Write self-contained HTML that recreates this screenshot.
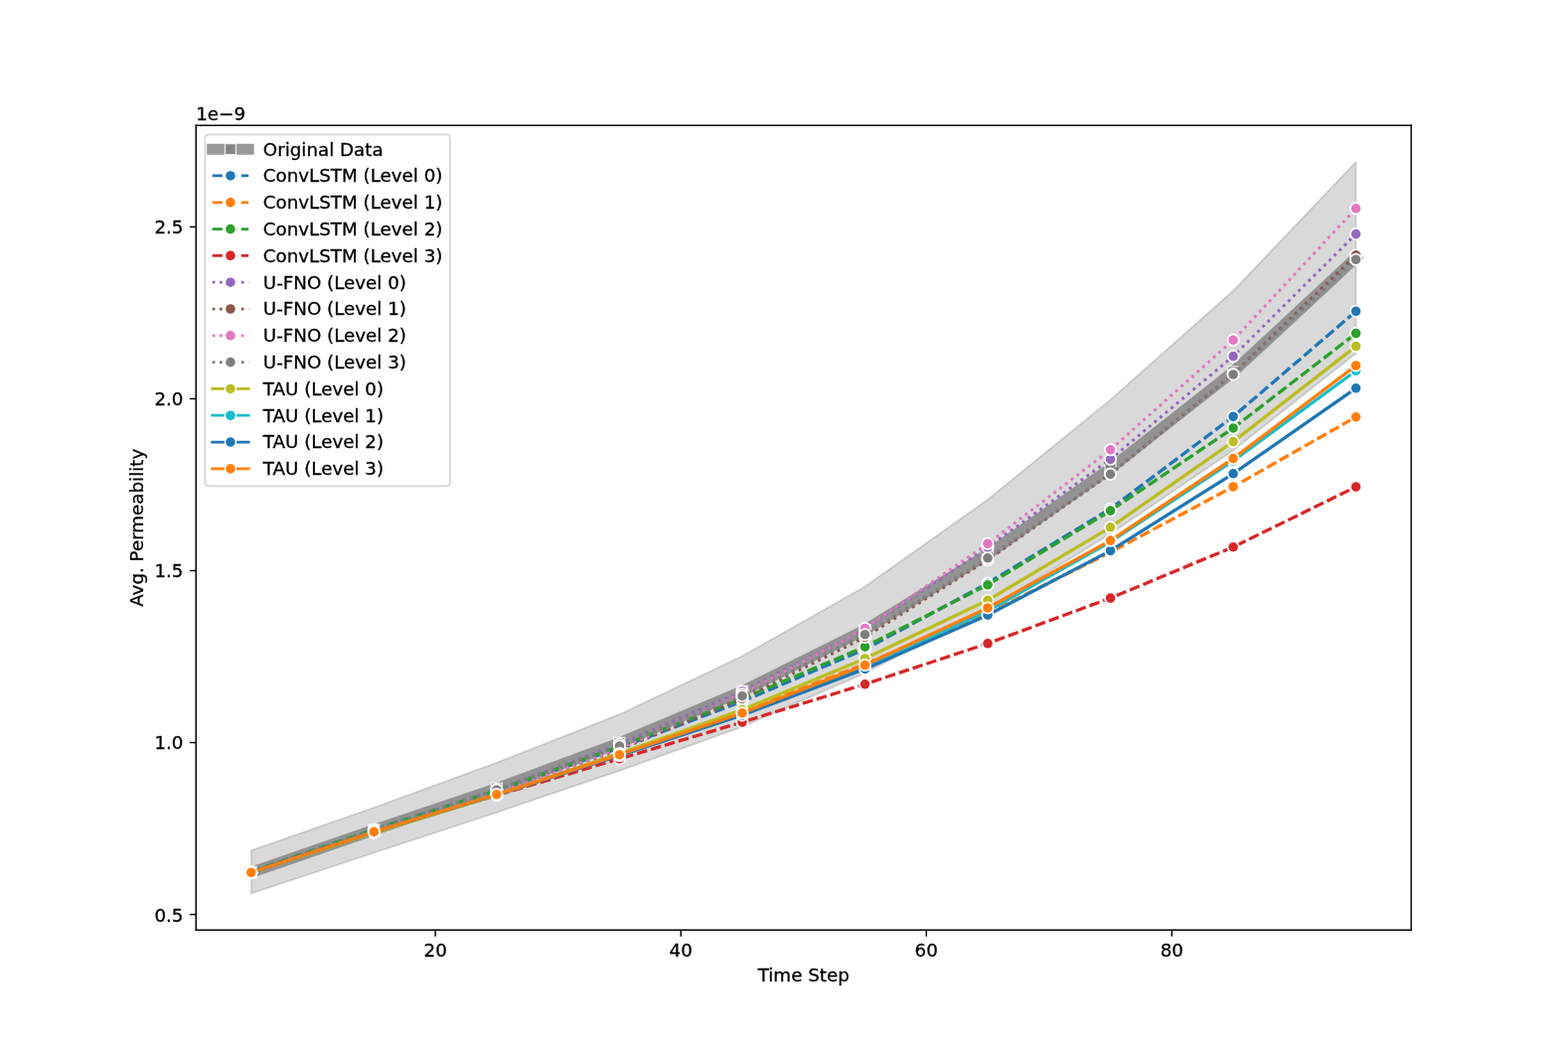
<!DOCTYPE html>
<html lang="en">
<head>
<meta charset="utf-8">
<title>Avg. Permeability vs Time Step</title>
<style>
html,body{margin:0;padding:0;background:#ffffff;}
body{width:1578px;height:1052px;overflow:hidden;font-family:"DejaVu Sans","Liberation Sans",sans-serif;}
svg{display:block;}
svg text{font-family:"DejaVu Sans","Liberation Sans",sans-serif;stroke:#000;stroke-width:0.16px;stroke-linejoin:round;}
</style>
</head>
<body>
<svg width="1578" height="1052" viewBox="0 0 864 576">
 <defs>
  <style type="text/css">*{stroke-linejoin: round; stroke-linecap: butt}</style>
 </defs>
 <g id="figure_1">
  <g id="patch_1">
   <path d="M 0 576 L 864 576 L 864 0 L 0 0 z
" style="fill: #ffffff"/>
  </g>
  <g id="axes_1">
   <g id="patch_2">
    <path d="M 108 512.64 L 777.6 512.64 L 777.6 69.12 L 108 69.12 z
" style="fill: #ffffff"/>
   </g>
   <g id="FillBetweenPolyCollection_1">
    <defs>
     <path id="m582c980ed0" d="M 138.436364 -107.206084 L 138.436364 -83.52 L 206.072727 -105.946768 L 273.709091 -128.231179 L 341.345455 -151.145247 L 408.981818 -175.428137 L 476.618182 -204.994677 L 544.254545 -240.365019 L 611.890909 -281.703422 L 679.527273 -327.75057 L 747.163636 -381.244106 L 747.163636 -486.72 L 747.163636 -486.72 L 679.527273 -415.68365 L 611.890909 -355.674525 L 544.254545 -300.593156 L 476.618182 -252.684411 L 408.981818 -214.357414 L 341.345455 -182.21749 L 273.709091 -155.607605 L 206.072727 -130.859316 L 138.436364 -107.206084 z
" style="stroke: #808080; stroke-opacity: 0.3"/>
    </defs>
    <g clip-path="url(#pb26753ab78)">
     <use href="#m582c980ed0" x="0" y="576" style="fill: #808080; fill-opacity: 0.3; stroke: #808080; stroke-opacity: 0.3"/>
    </g>
   </g>
   <g id="matplotlib.axis_1">
    <g id="xtick_1">
     <g id="line2d_1">
      <defs>
       <path id="m1504cfccaf" d="M 0 0 L 0 3.5" style="stroke: #000000; stroke-width: 0.8"/>
      </defs>
      <g>
       <use href="#m1504cfccaf" x="239.890909" y="512.64" style="stroke: #000000; stroke-width: 0.8"/>
      </g>
     </g>
     <g id="text_1">
      <text style="font-size: 10px; font-family: 'DejaVu Sans', 'Liberation Sans', sans-serif; text-anchor: middle" x="239.890909" y="527.238438">20</text>
     </g>
    </g>
    <g id="xtick_2">
     <g id="line2d_2">
      <g>
       <use href="#m1504cfccaf" x="375.163636" y="512.64" style="stroke: #000000; stroke-width: 0.8"/>
      </g>
     </g>
     <g id="text_2">
      <text style="font-size: 10px; font-family: 'DejaVu Sans', 'Liberation Sans', sans-serif; text-anchor: middle" x="375.163636" y="527.238438">40</text>
     </g>
    </g>
    <g id="xtick_3">
     <g id="line2d_3">
      <g>
       <use href="#m1504cfccaf" x="510.436364" y="512.64" style="stroke: #000000; stroke-width: 0.8"/>
      </g>
     </g>
     <g id="text_3">
      <text style="font-size: 10px; font-family: 'DejaVu Sans', 'Liberation Sans', sans-serif; text-anchor: middle" x="510.436364" y="527.238438">60</text>
     </g>
    </g>
    <g id="xtick_4">
     <g id="line2d_4">
      <g>
       <use href="#m1504cfccaf" x="645.709091" y="512.64" style="stroke: #000000; stroke-width: 0.8"/>
      </g>
     </g>
     <g id="text_4">
      <text style="font-size: 10px; font-family: 'DejaVu Sans', 'Liberation Sans', sans-serif; text-anchor: middle" x="645.709091" y="527.238438">80</text>
     </g>
    </g>
    <g id="text_5">
     <text style="font-size: 10px; font-family: 'DejaVu Sans', 'Liberation Sans', sans-serif; text-anchor: middle" x="442.8" y="540.916563">Time Step</text>
    </g>
   </g>
   <g id="matplotlib.axis_2">
    <g id="ytick_1">
     <g id="line2d_5">
      <defs>
       <path id="m5d545ce8f8" d="M 0 0 L -3.5 0" style="stroke: #000000; stroke-width: 0.8"/>
      </defs>
      <g>
       <use href="#m5d545ce8f8" x="108" y="504.054753" style="stroke: #000000; stroke-width: 0.8"/>
      </g>
     </g>
     <g id="text_6">
      <text style="font-size: 10px; font-family: 'DejaVu Sans', 'Liberation Sans', sans-serif; text-anchor: end" x="101" y="507.853972">0.5</text>
     </g>
    </g>
    <g id="ytick_2">
     <g id="line2d_6">
      <g>
       <use href="#m5d545ce8f8" x="108" y="409.304943" style="stroke: #000000; stroke-width: 0.8"/>
      </g>
     </g>
     <g id="text_7">
      <text style="font-size: 10px; font-family: 'DejaVu Sans', 'Liberation Sans', sans-serif; text-anchor: end" x="101" y="413.104162">1.0</text>
     </g>
    </g>
    <g id="ytick_3">
     <g id="line2d_7">
      <g>
       <use href="#m5d545ce8f8" x="108" y="314.555133" style="stroke: #000000; stroke-width: 0.8"/>
      </g>
     </g>
     <g id="text_8">
      <text style="font-size: 10px; font-family: 'DejaVu Sans', 'Liberation Sans', sans-serif; text-anchor: end" x="101" y="318.354352">1.5</text>
     </g>
    </g>
    <g id="ytick_4">
     <g id="line2d_8">
      <g>
       <use href="#m5d545ce8f8" x="108" y="219.805323" style="stroke: #000000; stroke-width: 0.8"/>
      </g>
     </g>
     <g id="text_9">
      <text style="font-size: 10px; font-family: 'DejaVu Sans', 'Liberation Sans', sans-serif; text-anchor: end" x="101" y="223.604542">2.0</text>
     </g>
    </g>
    <g id="ytick_5">
     <g id="line2d_9">
      <g>
       <use href="#m5d545ce8f8" x="108" y="125.055513" style="stroke: #000000; stroke-width: 0.8"/>
      </g>
     </g>
     <g id="text_10">
      <text style="font-size: 10px; font-family: 'DejaVu Sans', 'Liberation Sans', sans-serif; text-anchor: end" x="101" y="128.854732">2.5</text>
     </g>
    </g>
    <g id="text_11">
     <text style="font-size: 10px; font-family: 'DejaVu Sans', 'Liberation Sans', sans-serif; text-anchor: middle" x="79.017187" y="290.88" transform="rotate(-90 79.017187 290.88)">Avg. Permeability</text>
    </g>
    <g id="text_12">
     <text style="font-size: 10px; font-family: 'DejaVu Sans', 'Liberation Sans', sans-serif; text-anchor: start" x="108" y="66.12">1e−9</text>
    </g>
   </g>
   <g id="line2d_10">
    <path d="M 138.436364 480.894297 L 206.072727 457.460076 L 273.709091 434.518631 L 341.345455 409.441825 L 408.981818 380.970342 L 476.618182 347.242586 L 544.254545 305.520913 L 611.890909 258.159696 L 679.527273 204.939924 L 747.163636 142.028897" clip-path="url(#pb26753ab78)" style="fill: none; stroke: #808080; stroke-opacity: 0.8; stroke-width: 6; stroke-linecap: square"/>
    <defs>
     <path id="m9f821a03c7" d="M -3 3 L 3 3 L 3 -3 L -3 -3 z
" style="stroke: #ffffff; stroke-opacity: 0.8; stroke-width: 0.75; stroke-linejoin: miter"/>
    </defs>
    <g clip-path="url(#pb26753ab78)">
     <use href="#m9f821a03c7" x="138.436364" y="480.894297" style="fill: #808080; fill-opacity: 0.8; stroke: #ffffff; stroke-opacity: 0.8; stroke-width: 0.75; stroke-linejoin: miter"/>
     <use href="#m9f821a03c7" x="206.072727" y="457.460076" style="fill: #808080; fill-opacity: 0.8; stroke: #ffffff; stroke-opacity: 0.8; stroke-width: 0.75; stroke-linejoin: miter"/>
     <use href="#m9f821a03c7" x="273.709091" y="434.518631" style="fill: #808080; fill-opacity: 0.8; stroke: #ffffff; stroke-opacity: 0.8; stroke-width: 0.75; stroke-linejoin: miter"/>
     <use href="#m9f821a03c7" x="341.345455" y="409.441825" style="fill: #808080; fill-opacity: 0.8; stroke: #ffffff; stroke-opacity: 0.8; stroke-width: 0.75; stroke-linejoin: miter"/>
     <use href="#m9f821a03c7" x="408.981818" y="380.970342" style="fill: #808080; fill-opacity: 0.8; stroke: #ffffff; stroke-opacity: 0.8; stroke-width: 0.75; stroke-linejoin: miter"/>
     <use href="#m9f821a03c7" x="476.618182" y="347.242586" style="fill: #808080; fill-opacity: 0.8; stroke: #ffffff; stroke-opacity: 0.8; stroke-width: 0.75; stroke-linejoin: miter"/>
     <use href="#m9f821a03c7" x="544.254545" y="305.520913" style="fill: #808080; fill-opacity: 0.8; stroke: #ffffff; stroke-opacity: 0.8; stroke-width: 0.75; stroke-linejoin: miter"/>
     <use href="#m9f821a03c7" x="611.890909" y="258.159696" style="fill: #808080; fill-opacity: 0.8; stroke: #ffffff; stroke-opacity: 0.8; stroke-width: 0.75; stroke-linejoin: miter"/>
     <use href="#m9f821a03c7" x="679.527273" y="204.939924" style="fill: #808080; fill-opacity: 0.8; stroke: #ffffff; stroke-opacity: 0.8; stroke-width: 0.75; stroke-linejoin: miter"/>
     <use href="#m9f821a03c7" x="747.163636" y="142.028897" style="fill: #808080; fill-opacity: 0.8; stroke: #ffffff; stroke-opacity: 0.8; stroke-width: 0.75; stroke-linejoin: miter"/>
    </g>
   </g>
   <g id="line2d_11">
    <path d="M 138.436364 480.565779 L 206.072727 457.295817 L 273.709091 435.777947 L 341.345455 412.288973 L 408.981818 386.609886 L 476.618182 357.864639 L 544.254545 321.453992 L 611.890909 280.444106 L 679.527273 229.63346 L 747.163636 171.540684" clip-path="url(#pb26753ab78)" style="fill: none; stroke-dasharray: 5.77,2.18; stroke-dashoffset: 0.11; stroke: #1f77b4; stroke-width: 1.8"/>
    <defs>
     <path id="m5df62d87d0" d="M 0 3 C 0.795609 3 1.55874 2.683901 2.12132 2.12132 C 2.683901 1.55874 3 0.795609 3 0 C 3 -0.795609 2.683901 -1.55874 2.12132 -2.12132 C 1.55874 -2.683901 0.795609 -3 0 -3 C -0.795609 -3 -1.55874 -2.683901 -2.12132 -2.12132 C -2.683901 -1.55874 -3 -0.795609 -3 0 C -3 0.795609 -2.683901 1.55874 -2.12132 2.12132 C -1.55874 2.683901 -0.795609 3 0 3 z
" style="stroke: #ffffff; stroke-width: 0.75"/>
    </defs>
    <g clip-path="url(#pb26753ab78)">
     <circle cx="138.436364" cy="480.565779" r="3.1" style="fill: #1f77b4; stroke: #ffffff; stroke-width: 0.95"/>
     <circle cx="206.072727" cy="457.295817" r="3.1" style="fill: #1f77b4; stroke: #ffffff; stroke-width: 0.95"/>
     <circle cx="273.709091" cy="435.777947" r="3.1" style="fill: #1f77b4; stroke: #ffffff; stroke-width: 0.95"/>
     <circle cx="341.345455" cy="412.288973" r="3.1" style="fill: #1f77b4; stroke: #ffffff; stroke-width: 0.95"/>
     <circle cx="408.981818" cy="386.609886" r="3.1" style="fill: #1f77b4; stroke: #ffffff; stroke-width: 0.95"/>
     <circle cx="476.618182" cy="357.864639" r="3.1" style="fill: #1f77b4; stroke: #ffffff; stroke-width: 0.95"/>
     <circle cx="544.254545" cy="321.453992" r="3.1" style="fill: #1f77b4; stroke: #ffffff; stroke-width: 0.95"/>
     <circle cx="611.890909" cy="280.444106" r="3.1" style="fill: #1f77b4; stroke: #ffffff; stroke-width: 0.95"/>
     <circle cx="679.527273" cy="229.63346" r="3.1" style="fill: #1f77b4; stroke: #ffffff; stroke-width: 0.95"/>
     <circle cx="747.163636" cy="171.540684" r="3.1" style="fill: #1f77b4; stroke: #ffffff; stroke-width: 0.95"/>
    </g>
   </g>
   <g id="line2d_12">
    <path d="M 138.436364 480.894297 L 206.072727 458.50038 L 273.709091 437.803802 L 341.345455 415.464639 L 408.981818 392.139924 L 476.618182 365.913308 L 544.254545 337.989354 L 611.890909 304.425856 L 679.527273 268.288973 L 747.163636 229.852471" clip-path="url(#pb26753ab78)" style="fill: none; stroke-dasharray: 5.77,2.18; stroke-dashoffset: 0.11; stroke: #ff7f0e; stroke-width: 1.8"/>
    <defs>
     <path id="m56505ce936" d="M 0 3 C 0.795609 3 1.55874 2.683901 2.12132 2.12132 C 2.683901 1.55874 3 0.795609 3 0 C 3 -0.795609 2.683901 -1.55874 2.12132 -2.12132 C 1.55874 -2.683901 0.795609 -3 0 -3 C -0.795609 -3 -1.55874 -2.683901 -2.12132 -2.12132 C -2.683901 -1.55874 -3 -0.795609 -3 0 C -3 0.795609 -2.683901 1.55874 -2.12132 2.12132 C -1.55874 2.683901 -0.795609 3 0 3 z
" style="stroke: #ffffff; stroke-width: 0.75"/>
    </defs>
    <g clip-path="url(#pb26753ab78)">
     <circle cx="138.436364" cy="480.894297" r="3.1" style="fill: #ff7f0e; stroke: #ffffff; stroke-width: 0.95"/>
     <circle cx="206.072727" cy="458.50038" r="3.1" style="fill: #ff7f0e; stroke: #ffffff; stroke-width: 0.95"/>
     <circle cx="273.709091" cy="437.803802" r="3.1" style="fill: #ff7f0e; stroke: #ffffff; stroke-width: 0.95"/>
     <circle cx="341.345455" cy="415.464639" r="3.1" style="fill: #ff7f0e; stroke: #ffffff; stroke-width: 0.95"/>
     <circle cx="408.981818" cy="392.139924" r="3.1" style="fill: #ff7f0e; stroke: #ffffff; stroke-width: 0.95"/>
     <circle cx="476.618182" cy="365.913308" r="3.1" style="fill: #ff7f0e; stroke: #ffffff; stroke-width: 0.95"/>
     <circle cx="544.254545" cy="337.989354" r="3.1" style="fill: #ff7f0e; stroke: #ffffff; stroke-width: 0.95"/>
     <circle cx="611.890909" cy="304.425856" r="3.1" style="fill: #ff7f0e; stroke: #ffffff; stroke-width: 0.95"/>
     <circle cx="679.527273" cy="268.288973" r="3.1" style="fill: #ff7f0e; stroke: #ffffff; stroke-width: 0.95"/>
     <circle cx="747.163636" cy="229.852471" r="3.1" style="fill: #ff7f0e; stroke: #ffffff; stroke-width: 0.95"/>
    </g>
   </g>
   <g id="line2d_13">
    <path d="M 138.436364 480.565779 L 206.072727 457.295817 L 273.709091 435.613688 L 341.345455 411.412928 L 408.981818 385.186312 L 476.618182 356.495817 L 544.254545 322.384791 L 611.890909 281.484411 L 679.527273 235.957414 L 747.163636 183.75057" clip-path="url(#pb26753ab78)" style="fill: none; stroke-dasharray: 5.77,2.18; stroke-dashoffset: 0.11; stroke: #2ca02c; stroke-width: 1.8"/>
    <defs>
     <path id="m33f3ef4de0" d="M 0 3 C 0.795609 3 1.55874 2.683901 2.12132 2.12132 C 2.683901 1.55874 3 0.795609 3 0 C 3 -0.795609 2.683901 -1.55874 2.12132 -2.12132 C 1.55874 -2.683901 0.795609 -3 0 -3 C -0.795609 -3 -1.55874 -2.683901 -2.12132 -2.12132 C -2.683901 -1.55874 -3 -0.795609 -3 0 C -3 0.795609 -2.683901 1.55874 -2.12132 2.12132 C -1.55874 2.683901 -0.795609 3 0 3 z
" style="stroke: #ffffff; stroke-width: 0.75"/>
    </defs>
    <g clip-path="url(#pb26753ab78)">
     <circle cx="138.436364" cy="480.565779" r="3.1" style="fill: #2ca02c; stroke: #ffffff; stroke-width: 0.95"/>
     <circle cx="206.072727" cy="457.295817" r="3.1" style="fill: #2ca02c; stroke: #ffffff; stroke-width: 0.95"/>
     <circle cx="273.709091" cy="435.613688" r="3.1" style="fill: #2ca02c; stroke: #ffffff; stroke-width: 0.95"/>
     <circle cx="341.345455" cy="411.412928" r="3.1" style="fill: #2ca02c; stroke: #ffffff; stroke-width: 0.95"/>
     <circle cx="408.981818" cy="385.186312" r="3.1" style="fill: #2ca02c; stroke: #ffffff; stroke-width: 0.95"/>
     <circle cx="476.618182" cy="356.495817" r="3.1" style="fill: #2ca02c; stroke: #ffffff; stroke-width: 0.95"/>
     <circle cx="544.254545" cy="322.384791" r="3.1" style="fill: #2ca02c; stroke: #ffffff; stroke-width: 0.95"/>
     <circle cx="611.890909" cy="281.484411" r="3.1" style="fill: #2ca02c; stroke: #ffffff; stroke-width: 0.95"/>
     <circle cx="679.527273" cy="235.957414" r="3.1" style="fill: #2ca02c; stroke: #ffffff; stroke-width: 0.95"/>
     <circle cx="747.163636" cy="183.75057" r="3.1" style="fill: #2ca02c; stroke: #ffffff; stroke-width: 0.95"/>
    </g>
   </g>
   <g id="line2d_14">
    <path d="M 138.436364 480.894297 L 206.072727 458.50038 L 273.709091 438.351331 L 341.345455 418.257034 L 408.981818 398.053232 L 476.618182 377.137643 L 544.254545 354.688973 L 611.890909 329.66692 L 679.527273 301.523954 L 747.163636 268.343726" clip-path="url(#pb26753ab78)" style="fill: none; stroke-dasharray: 5.77,2.18; stroke-dashoffset: 0.11; stroke: #d62728; stroke-width: 1.8"/>
    <defs>
     <path id="m51c3a14ea0" d="M 0 3 C 0.795609 3 1.55874 2.683901 2.12132 2.12132 C 2.683901 1.55874 3 0.795609 3 0 C 3 -0.795609 2.683901 -1.55874 2.12132 -2.12132 C 1.55874 -2.683901 0.795609 -3 0 -3 C -0.795609 -3 -1.55874 -2.683901 -2.12132 -2.12132 C -2.683901 -1.55874 -3 -0.795609 -3 0 C -3 0.795609 -2.683901 1.55874 -2.12132 2.12132 C -1.55874 2.683901 -0.795609 3 0 3 z
" style="stroke: #ffffff; stroke-width: 0.75"/>
    </defs>
    <g clip-path="url(#pb26753ab78)">
     <circle cx="138.436364" cy="480.894297" r="3.1" style="fill: #d62728; stroke: #ffffff; stroke-width: 0.95"/>
     <circle cx="206.072727" cy="458.50038" r="3.1" style="fill: #d62728; stroke: #ffffff; stroke-width: 0.95"/>
     <circle cx="273.709091" cy="438.351331" r="3.1" style="fill: #d62728; stroke: #ffffff; stroke-width: 0.95"/>
     <circle cx="341.345455" cy="418.257034" r="3.1" style="fill: #d62728; stroke: #ffffff; stroke-width: 0.95"/>
     <circle cx="408.981818" cy="398.053232" r="3.1" style="fill: #d62728; stroke: #ffffff; stroke-width: 0.95"/>
     <circle cx="476.618182" cy="377.137643" r="3.1" style="fill: #d62728; stroke: #ffffff; stroke-width: 0.95"/>
     <circle cx="544.254545" cy="354.688973" r="3.1" style="fill: #d62728; stroke: #ffffff; stroke-width: 0.95"/>
     <circle cx="611.890909" cy="329.66692" r="3.1" style="fill: #d62728; stroke: #ffffff; stroke-width: 0.95"/>
     <circle cx="679.527273" cy="301.523954" r="3.1" style="fill: #d62728; stroke: #ffffff; stroke-width: 0.95"/>
     <circle cx="747.163636" cy="268.343726" r="3.1" style="fill: #d62728; stroke: #ffffff; stroke-width: 0.95"/>
    </g>
   </g>
   <g id="line2d_15">
    <path d="M 138.436364 480.730038 L 206.072727 457.514829 L 273.709091 435.175665 L 341.345455 410.098859 L 408.981818 381.079848 L 476.618182 346.804563 L 544.254545 301.688213 L 611.890909 253.122433 L 679.527273 196.343726 L 747.163636 128.997719" clip-path="url(#pb26753ab78)" style="fill: none; stroke-dasharray: 1.6,2.375; stroke-dashoffset: 0.05; stroke: #9467bd; stroke-width: 1.65"/>
    <defs>
     <path id="m9b58a27b5e" d="M 0 3 C 0.795609 3 1.55874 2.683901 2.12132 2.12132 C 2.683901 1.55874 3 0.795609 3 0 C 3 -0.795609 2.683901 -1.55874 2.12132 -2.12132 C 1.55874 -2.683901 0.795609 -3 0 -3 C -0.795609 -3 -1.55874 -2.683901 -2.12132 -2.12132 C -2.683901 -1.55874 -3 -0.795609 -3 0 C -3 0.795609 -2.683901 1.55874 -2.12132 2.12132 C -1.55874 2.683901 -0.795609 3 0 3 z
" style="stroke: #ffffff; stroke-width: 0.75"/>
    </defs>
    <g clip-path="url(#pb26753ab78)">
     <circle cx="138.436364" cy="480.730038" r="3.1" style="fill: #9467bd; stroke: #ffffff; stroke-width: 0.95"/>
     <circle cx="206.072727" cy="457.514829" r="3.1" style="fill: #9467bd; stroke: #ffffff; stroke-width: 0.95"/>
     <circle cx="273.709091" cy="435.175665" r="3.1" style="fill: #9467bd; stroke: #ffffff; stroke-width: 0.95"/>
     <circle cx="341.345455" cy="410.098859" r="3.1" style="fill: #9467bd; stroke: #ffffff; stroke-width: 0.95"/>
     <circle cx="408.981818" cy="381.079848" r="3.1" style="fill: #9467bd; stroke: #ffffff; stroke-width: 0.95"/>
     <circle cx="476.618182" cy="346.804563" r="3.1" style="fill: #9467bd; stroke: #ffffff; stroke-width: 0.95"/>
     <circle cx="544.254545" cy="301.688213" r="3.1" style="fill: #9467bd; stroke: #ffffff; stroke-width: 0.95"/>
     <circle cx="611.890909" cy="253.122433" r="3.1" style="fill: #9467bd; stroke: #ffffff; stroke-width: 0.95"/>
     <circle cx="679.527273" cy="196.343726" r="3.1" style="fill: #9467bd; stroke: #ffffff; stroke-width: 0.95"/>
     <circle cx="747.163636" cy="128.997719" r="3.1" style="fill: #9467bd; stroke: #ffffff; stroke-width: 0.95"/>
    </g>
   </g>
   <g id="line2d_16">
    <path d="M 138.436364 480.894297 L 206.072727 458.281369 L 273.709091 437.365779 L 341.345455 413.165019 L 408.981818 385.131559 L 476.618182 351.184791 L 544.254545 308.587072 L 611.890909 261.171103 L 679.527273 206.144487 L 747.163636 140.605323" clip-path="url(#pb26753ab78)" style="fill: none; stroke-dasharray: 1.6,2.375; stroke-dashoffset: 0.05; stroke: #8c564b; stroke-width: 1.65"/>
    <defs>
     <path id="m29a785109c" d="M 0 3 C 0.795609 3 1.55874 2.683901 2.12132 2.12132 C 2.683901 1.55874 3 0.795609 3 0 C 3 -0.795609 2.683901 -1.55874 2.12132 -2.12132 C 1.55874 -2.683901 0.795609 -3 0 -3 C -0.795609 -3 -1.55874 -2.683901 -2.12132 -2.12132 C -2.683901 -1.55874 -3 -0.795609 -3 0 C -3 0.795609 -2.683901 1.55874 -2.12132 2.12132 C -1.55874 2.683901 -0.795609 3 0 3 z
" style="stroke: #ffffff; stroke-width: 0.75"/>
    </defs>
    <g clip-path="url(#pb26753ab78)">
     <circle cx="138.436364" cy="480.894297" r="3.1" style="fill: #8c564b; stroke: #ffffff; stroke-width: 0.95"/>
     <circle cx="206.072727" cy="458.281369" r="3.1" style="fill: #8c564b; stroke: #ffffff; stroke-width: 0.95"/>
     <circle cx="273.709091" cy="437.365779" r="3.1" style="fill: #8c564b; stroke: #ffffff; stroke-width: 0.95"/>
     <circle cx="341.345455" cy="413.165019" r="3.1" style="fill: #8c564b; stroke: #ffffff; stroke-width: 0.95"/>
     <circle cx="408.981818" cy="385.131559" r="3.1" style="fill: #8c564b; stroke: #ffffff; stroke-width: 0.95"/>
     <circle cx="476.618182" cy="351.184791" r="3.1" style="fill: #8c564b; stroke: #ffffff; stroke-width: 0.95"/>
     <circle cx="544.254545" cy="308.587072" r="3.1" style="fill: #8c564b; stroke: #ffffff; stroke-width: 0.95"/>
     <circle cx="611.890909" cy="261.171103" r="3.1" style="fill: #8c564b; stroke: #ffffff; stroke-width: 0.95"/>
     <circle cx="679.527273" cy="206.144487" r="3.1" style="fill: #8c564b; stroke: #ffffff; stroke-width: 0.95"/>
     <circle cx="747.163636" cy="140.605323" r="3.1" style="fill: #8c564b; stroke: #ffffff; stroke-width: 0.95"/>
    </g>
   </g>
   <g id="line2d_17">
    <path d="M 138.436364 480.894297 L 206.072727 458.281369 L 273.709091 437.146768 L 341.345455 412.726996 L 408.981818 382.558175 L 476.618182 346.36654 L 544.254545 299.71711 L 611.890909 247.920913 L 679.527273 187.473764 L 747.163636 114.871483" clip-path="url(#pb26753ab78)" style="fill: none; stroke-dasharray: 1.6,2.375; stroke-dashoffset: 0.05; stroke: #e377c2; stroke-width: 1.65"/>
    <defs>
     <path id="maf6b73d54b" d="M 0 3 C 0.795609 3 1.55874 2.683901 2.12132 2.12132 C 2.683901 1.55874 3 0.795609 3 0 C 3 -0.795609 2.683901 -1.55874 2.12132 -2.12132 C 1.55874 -2.683901 0.795609 -3 0 -3 C -0.795609 -3 -1.55874 -2.683901 -2.12132 -2.12132 C -2.683901 -1.55874 -3 -0.795609 -3 0 C -3 0.795609 -2.683901 1.55874 -2.12132 2.12132 C -1.55874 2.683901 -0.795609 3 0 3 z
" style="stroke: #ffffff; stroke-width: 0.75"/>
    </defs>
    <g clip-path="url(#pb26753ab78)">
     <circle cx="138.436364" cy="480.894297" r="3.1" style="fill: #e377c2; stroke: #ffffff; stroke-width: 0.95"/>
     <circle cx="206.072727" cy="458.281369" r="3.1" style="fill: #e377c2; stroke: #ffffff; stroke-width: 0.95"/>
     <circle cx="273.709091" cy="437.146768" r="3.1" style="fill: #e377c2; stroke: #ffffff; stroke-width: 0.95"/>
     <circle cx="341.345455" cy="412.726996" r="3.1" style="fill: #e377c2; stroke: #ffffff; stroke-width: 0.95"/>
     <circle cx="408.981818" cy="382.558175" r="3.1" style="fill: #e377c2; stroke: #ffffff; stroke-width: 0.95"/>
     <circle cx="476.618182" cy="346.36654" r="3.1" style="fill: #e377c2; stroke: #ffffff; stroke-width: 0.95"/>
     <circle cx="544.254545" cy="299.71711" r="3.1" style="fill: #e377c2; stroke: #ffffff; stroke-width: 0.95"/>
     <circle cx="611.890909" cy="247.920913" r="3.1" style="fill: #e377c2; stroke: #ffffff; stroke-width: 0.95"/>
     <circle cx="679.527273" cy="187.473764" r="3.1" style="fill: #e377c2; stroke: #ffffff; stroke-width: 0.95"/>
     <circle cx="747.163636" cy="114.871483" r="3.1" style="fill: #e377c2; stroke: #ffffff; stroke-width: 0.95"/>
    </g>
   </g>
   <g id="line2d_18">
    <path d="M 138.436364 480.730038 L 206.072727 457.73384 L 273.709091 435.394677 L 341.345455 411.248669 L 408.981818 383.653232 L 476.618182 349.761217 L 544.254545 307.601521 L 611.890909 261.335361 L 679.527273 206.418251 L 747.163636 143.069202" clip-path="url(#pb26753ab78)" style="fill: none; stroke-dasharray: 1.6,2.375; stroke-dashoffset: 0.05; stroke: #7f7f7f; stroke-width: 1.65"/>
    <defs>
     <path id="maf3c147c5a" d="M 0 3 C 0.795609 3 1.55874 2.683901 2.12132 2.12132 C 2.683901 1.55874 3 0.795609 3 0 C 3 -0.795609 2.683901 -1.55874 2.12132 -2.12132 C 1.55874 -2.683901 0.795609 -3 0 -3 C -0.795609 -3 -1.55874 -2.683901 -2.12132 -2.12132 C -2.683901 -1.55874 -3 -0.795609 -3 0 C -3 0.795609 -2.683901 1.55874 -2.12132 2.12132 C -1.55874 2.683901 -0.795609 3 0 3 z
" style="stroke: #ffffff; stroke-width: 0.75"/>
    </defs>
    <g clip-path="url(#pb26753ab78)">
     <circle cx="138.436364" cy="480.730038" r="3.1" style="fill: #7f7f7f; stroke: #ffffff; stroke-width: 0.95"/>
     <circle cx="206.072727" cy="457.73384" r="3.1" style="fill: #7f7f7f; stroke: #ffffff; stroke-width: 0.95"/>
     <circle cx="273.709091" cy="435.394677" r="3.1" style="fill: #7f7f7f; stroke: #ffffff; stroke-width: 0.95"/>
     <circle cx="341.345455" cy="411.248669" r="3.1" style="fill: #7f7f7f; stroke: #ffffff; stroke-width: 0.95"/>
     <circle cx="408.981818" cy="383.653232" r="3.1" style="fill: #7f7f7f; stroke: #ffffff; stroke-width: 0.95"/>
     <circle cx="476.618182" cy="349.761217" r="3.1" style="fill: #7f7f7f; stroke: #ffffff; stroke-width: 0.95"/>
     <circle cx="544.254545" cy="307.601521" r="3.1" style="fill: #7f7f7f; stroke: #ffffff; stroke-width: 0.95"/>
     <circle cx="611.890909" cy="261.335361" r="3.1" style="fill: #7f7f7f; stroke: #ffffff; stroke-width: 0.95"/>
     <circle cx="679.527273" cy="206.418251" r="3.1" style="fill: #7f7f7f; stroke: #ffffff; stroke-width: 0.95"/>
     <circle cx="747.163636" cy="143.069202" r="3.1" style="fill: #7f7f7f; stroke: #ffffff; stroke-width: 0.95"/>
    </g>
   </g>
   <g id="line2d_19">
    <path d="M 138.436364 480.894297 L 206.072727 459.047909 L 273.709091 438.241825 L 341.345455 415.30038 L 408.981818 391.263878 L 476.618182 363.011407 L 544.254545 330.871483 L 611.890909 290.628137 L 679.527273 243.431179 L 747.163636 190.868441" clip-path="url(#pb26753ab78)" style="fill: none; stroke: #bcbd22; stroke-width: 1.8; stroke-linecap: square"/>
    <defs>
     <path id="mbd489bb792" d="M 0 3 C 0.795609 3 1.55874 2.683901 2.12132 2.12132 C 2.683901 1.55874 3 0.795609 3 0 C 3 -0.795609 2.683901 -1.55874 2.12132 -2.12132 C 1.55874 -2.683901 0.795609 -3 0 -3 C -0.795609 -3 -1.55874 -2.683901 -2.12132 -2.12132 C -2.683901 -1.55874 -3 -0.795609 -3 0 C -3 0.795609 -2.683901 1.55874 -2.12132 2.12132 C -1.55874 2.683901 -0.795609 3 0 3 z
" style="stroke: #ffffff; stroke-width: 0.75"/>
    </defs>
    <g clip-path="url(#pb26753ab78)">
     <circle cx="138.436364" cy="480.894297" r="3.1" style="fill: #bcbd22; stroke: #ffffff; stroke-width: 0.95"/>
     <circle cx="206.072727" cy="459.047909" r="3.1" style="fill: #bcbd22; stroke: #ffffff; stroke-width: 0.95"/>
     <circle cx="273.709091" cy="438.241825" r="3.1" style="fill: #bcbd22; stroke: #ffffff; stroke-width: 0.95"/>
     <circle cx="341.345455" cy="415.30038" r="3.1" style="fill: #bcbd22; stroke: #ffffff; stroke-width: 0.95"/>
     <circle cx="408.981818" cy="391.263878" r="3.1" style="fill: #bcbd22; stroke: #ffffff; stroke-width: 0.95"/>
     <circle cx="476.618182" cy="363.011407" r="3.1" style="fill: #bcbd22; stroke: #ffffff; stroke-width: 0.95"/>
     <circle cx="544.254545" cy="330.871483" r="3.1" style="fill: #bcbd22; stroke: #ffffff; stroke-width: 0.95"/>
     <circle cx="611.890909" cy="290.628137" r="3.1" style="fill: #bcbd22; stroke: #ffffff; stroke-width: 0.95"/>
     <circle cx="679.527273" cy="243.431179" r="3.1" style="fill: #bcbd22; stroke: #ffffff; stroke-width: 0.95"/>
     <circle cx="747.163636" cy="190.868441" r="3.1" style="fill: #bcbd22; stroke: #ffffff; stroke-width: 0.95"/>
    </g>
   </g>
   <g id="line2d_20">
    <path d="M 138.436364 480.894297 L 206.072727 458.50038 L 273.709091 437.968061 L 341.345455 416.121673 L 408.981818 393.508745 L 476.618182 367.391635 L 544.254545 336.730038 L 611.890909 298.676806 L 679.527273 254.053232 L 747.163636 204.337643" clip-path="url(#pb26753ab78)" style="fill: none; stroke: #17becf; stroke-width: 1.8; stroke-linecap: square"/>
    <defs>
     <path id="md7ad0acb44" d="M 0 3 C 0.795609 3 1.55874 2.683901 2.12132 2.12132 C 2.683901 1.55874 3 0.795609 3 0 C 3 -0.795609 2.683901 -1.55874 2.12132 -2.12132 C 1.55874 -2.683901 0.795609 -3 0 -3 C -0.795609 -3 -1.55874 -2.683901 -2.12132 -2.12132 C -2.683901 -1.55874 -3 -0.795609 -3 0 C -3 0.795609 -2.683901 1.55874 -2.12132 2.12132 C -1.55874 2.683901 -0.795609 3 0 3 z
" style="stroke: #ffffff; stroke-width: 0.75"/>
    </defs>
    <g clip-path="url(#pb26753ab78)">
     <circle cx="138.436364" cy="480.894297" r="3.1" style="fill: #17becf; stroke: #ffffff; stroke-width: 0.95"/>
     <circle cx="206.072727" cy="458.50038" r="3.1" style="fill: #17becf; stroke: #ffffff; stroke-width: 0.95"/>
     <circle cx="273.709091" cy="437.968061" r="3.1" style="fill: #17becf; stroke: #ffffff; stroke-width: 0.95"/>
     <circle cx="341.345455" cy="416.121673" r="3.1" style="fill: #17becf; stroke: #ffffff; stroke-width: 0.95"/>
     <circle cx="408.981818" cy="393.508745" r="3.1" style="fill: #17becf; stroke: #ffffff; stroke-width: 0.95"/>
     <circle cx="476.618182" cy="367.391635" r="3.1" style="fill: #17becf; stroke: #ffffff; stroke-width: 0.95"/>
     <circle cx="544.254545" cy="336.730038" r="3.1" style="fill: #17becf; stroke: #ffffff; stroke-width: 0.95"/>
     <circle cx="611.890909" cy="298.676806" r="3.1" style="fill: #17becf; stroke: #ffffff; stroke-width: 0.95"/>
     <circle cx="679.527273" cy="254.053232" r="3.1" style="fill: #17becf; stroke: #ffffff; stroke-width: 0.95"/>
     <circle cx="747.163636" cy="204.337643" r="3.1" style="fill: #17becf; stroke: #ffffff; stroke-width: 0.95"/>
    </g>
   </g>
   <g id="line2d_21">
    <path d="M 138.436364 480.894297 L 206.072727 458.50038 L 273.709091 438.022814 L 341.345455 416.45019 L 408.981818 394.220532 L 476.618182 368.705703 L 544.254545 339.002281 L 611.890909 303.54981 L 679.527273 261.061597 L 747.163636 213.974144" clip-path="url(#pb26753ab78)" style="fill: none; stroke: #1f77b4; stroke-width: 1.8; stroke-linecap: square"/>
    <g clip-path="url(#pb26753ab78)">
     <circle cx="138.436364" cy="480.894297" r="3.1" style="fill: #1f77b4; stroke: #ffffff; stroke-width: 0.95"/>
     <circle cx="206.072727" cy="458.50038" r="3.1" style="fill: #1f77b4; stroke: #ffffff; stroke-width: 0.95"/>
     <circle cx="273.709091" cy="438.022814" r="3.1" style="fill: #1f77b4; stroke: #ffffff; stroke-width: 0.95"/>
     <circle cx="341.345455" cy="416.45019" r="3.1" style="fill: #1f77b4; stroke: #ffffff; stroke-width: 0.95"/>
     <circle cx="408.981818" cy="394.220532" r="3.1" style="fill: #1f77b4; stroke: #ffffff; stroke-width: 0.95"/>
     <circle cx="476.618182" cy="368.705703" r="3.1" style="fill: #1f77b4; stroke: #ffffff; stroke-width: 0.95"/>
     <circle cx="544.254545" cy="339.002281" r="3.1" style="fill: #1f77b4; stroke: #ffffff; stroke-width: 0.95"/>
     <circle cx="611.890909" cy="303.54981" r="3.1" style="fill: #1f77b4; stroke: #ffffff; stroke-width: 0.95"/>
     <circle cx="679.527273" cy="261.061597" r="3.1" style="fill: #1f77b4; stroke: #ffffff; stroke-width: 0.95"/>
     <circle cx="747.163636" cy="213.974144" r="3.1" style="fill: #1f77b4; stroke: #ffffff; stroke-width: 0.95"/>
    </g>
   </g>
   <g id="line2d_22">
    <path d="M 138.436364 480.894297 L 206.072727 458.50038 L 273.709091 437.913308 L 341.345455 416.012167 L 408.981818 393.01597 L 476.618182 366.597719 L 544.254545 335.087452 L 611.890909 297.910266 L 679.527273 252.739163 L 747.163636 201.490494" clip-path="url(#pb26753ab78)" style="fill: none; stroke: #ff7f0e; stroke-width: 1.8; stroke-linecap: square"/>
    <g clip-path="url(#pb26753ab78)">
     <circle cx="138.436364" cy="480.894297" r="3.1" style="fill: #ff7f0e; stroke: #ffffff; stroke-width: 0.95"/>
     <circle cx="206.072727" cy="458.50038" r="3.1" style="fill: #ff7f0e; stroke: #ffffff; stroke-width: 0.95"/>
     <circle cx="273.709091" cy="437.913308" r="3.1" style="fill: #ff7f0e; stroke: #ffffff; stroke-width: 0.95"/>
     <circle cx="341.345455" cy="416.012167" r="3.1" style="fill: #ff7f0e; stroke: #ffffff; stroke-width: 0.95"/>
     <circle cx="408.981818" cy="393.01597" r="3.1" style="fill: #ff7f0e; stroke: #ffffff; stroke-width: 0.95"/>
     <circle cx="476.618182" cy="366.597719" r="3.1" style="fill: #ff7f0e; stroke: #ffffff; stroke-width: 0.95"/>
     <circle cx="544.254545" cy="335.087452" r="3.1" style="fill: #ff7f0e; stroke: #ffffff; stroke-width: 0.95"/>
     <circle cx="611.890909" cy="297.910266" r="3.1" style="fill: #ff7f0e; stroke: #ffffff; stroke-width: 0.95"/>
     <circle cx="679.527273" cy="252.739163" r="3.1" style="fill: #ff7f0e; stroke: #ffffff; stroke-width: 0.95"/>
     <circle cx="747.163636" cy="201.490494" r="3.1" style="fill: #ff7f0e; stroke: #ffffff; stroke-width: 0.95"/>
    </g>
   </g>
   <g id="patch_3">
    <path d="M 108 512.64 L 108 69.12" style="fill: none; stroke: #000000; stroke-width: 0.8; stroke-linejoin: miter; stroke-linecap: square"/>
   </g>
   <g id="patch_4">
    <path d="M 777.6 512.64 L 777.6 69.12" style="fill: none; stroke: #000000; stroke-width: 0.8; stroke-linejoin: miter; stroke-linecap: square"/>
   </g>
   <g id="patch_5">
    <path d="M 108 512.64 L 777.6 512.64" style="fill: none; stroke: #000000; stroke-width: 0.8; stroke-linejoin: miter; stroke-linecap: square"/>
   </g>
   <g id="patch_6">
    <path d="M 108 69.12 L 777.6 69.12" style="fill: none; stroke: #000000; stroke-width: 0.8; stroke-linejoin: miter; stroke-linecap: square"/>
   </g>
   <g id="legend_1">
    <g id="patch_7">
     <path d="M 115 267.935625 L 245.935938 267.935625 Q 247.935938 267.935625 247.935938 265.935625 L 247.935938 76.12 Q 247.935938 74.12 245.935938 74.12 L 115 74.12 Q 113 74.12 113 76.12 L 113 265.935625 Q 113 267.935625 115 267.935625 z
" style="fill: #ffffff; opacity: 0.8; stroke: #cccccc; stroke-linejoin: miter"/>
    </g>
    <g id="line2d_23">
     <path d="M 117 82.218437 L 127 82.218437 L 137 82.218437" style="fill: none; stroke: #808080; stroke-opacity: 0.8; stroke-width: 6; stroke-linecap: square"/>
     <g>
      <use href="#m9f821a03c7" x="127" y="82.218437" style="fill: #808080; fill-opacity: 0.8; stroke: #ffffff; stroke-opacity: 0.8; stroke-width: 0.75; stroke-linejoin: miter"/>
     </g>
    </g>
    <g id="text_13">
     <text style="font-size: 10px; font-family: 'DejaVu Sans', 'Liberation Sans', sans-serif; text-anchor: start" x="145" y="85.718437">Original Data</text>
    </g>
    <g id="line2d_24">
     <path d="M 117 96.896563 L 127 96.896563 L 137 96.896563" style="fill: none; stroke-dasharray: 5.55,2.4; stroke-dashoffset: 0; stroke: #1f77b4; stroke-width: 1.5"/>
     <g>
      <use href="#m5df62d87d0" x="127" y="96.896563" style="fill: #1f77b4; stroke: #ffffff; stroke-width: 0.75"/>
     </g>
    </g>
    <g id="text_14">
     <text style="font-size: 10px; font-family: 'DejaVu Sans', 'Liberation Sans', sans-serif; text-anchor: start" x="145" y="100.396563">ConvLSTM (Level 0)</text>
    </g>
    <g id="line2d_25">
     <path d="M 117 111.574687 L 127 111.574687 L 137 111.574687" style="fill: none; stroke-dasharray: 5.55,2.4; stroke-dashoffset: 0; stroke: #ff7f0e; stroke-width: 1.5"/>
     <g>
      <use href="#m56505ce936" x="127" y="111.574687" style="fill: #ff7f0e; stroke: #ffffff; stroke-width: 0.75"/>
     </g>
    </g>
    <g id="text_15">
     <text style="font-size: 10px; font-family: 'DejaVu Sans', 'Liberation Sans', sans-serif; text-anchor: start" x="145" y="115.074687">ConvLSTM (Level 1)</text>
    </g>
    <g id="line2d_26">
     <path d="M 117 126.252813 L 127 126.252813 L 137 126.252813" style="fill: none; stroke-dasharray: 5.55,2.4; stroke-dashoffset: 0; stroke: #2ca02c; stroke-width: 1.5"/>
     <g>
      <use href="#m33f3ef4de0" x="127" y="126.252813" style="fill: #2ca02c; stroke: #ffffff; stroke-width: 0.75"/>
     </g>
    </g>
    <g id="text_16">
     <text style="font-size: 10px; font-family: 'DejaVu Sans', 'Liberation Sans', sans-serif; text-anchor: start" x="145" y="129.752813">ConvLSTM (Level 2)</text>
    </g>
    <g id="line2d_27">
     <path d="M 117 140.930938 L 127 140.930938 L 137 140.930938" style="fill: none; stroke-dasharray: 5.55,2.4; stroke-dashoffset: 0; stroke: #d62728; stroke-width: 1.5"/>
     <g>
      <use href="#m51c3a14ea0" x="127" y="140.930938" style="fill: #d62728; stroke: #ffffff; stroke-width: 0.75"/>
     </g>
    </g>
    <g id="text_17">
     <text style="font-size: 10px; font-family: 'DejaVu Sans', 'Liberation Sans', sans-serif; text-anchor: start" x="145" y="144.430938">ConvLSTM (Level 3)</text>
    </g>
    <g id="line2d_28">
     <path d="M 117 155.609062 L 127 155.609062 L 137 155.609062" style="fill: none; stroke-dasharray: 1.5,2.475; stroke-dashoffset: 0; stroke: #9467bd; stroke-width: 1.5"/>
     <g>
      <use href="#m9b58a27b5e" x="127" y="155.609062" style="fill: #9467bd; stroke: #ffffff; stroke-width: 0.75"/>
     </g>
    </g>
    <g id="text_18">
     <text style="font-size: 10px; font-family: 'DejaVu Sans', 'Liberation Sans', sans-serif; text-anchor: start" x="145" y="159.109062">U-FNO (Level 0)</text>
    </g>
    <g id="line2d_29">
     <path d="M 117 170.287188 L 127 170.287188 L 137 170.287188" style="fill: none; stroke-dasharray: 1.5,2.475; stroke-dashoffset: 0; stroke: #8c564b; stroke-width: 1.5"/>
     <g>
      <use href="#m29a785109c" x="127" y="170.287188" style="fill: #8c564b; stroke: #ffffff; stroke-width: 0.75"/>
     </g>
    </g>
    <g id="text_19">
     <text style="font-size: 10px; font-family: 'DejaVu Sans', 'Liberation Sans', sans-serif; text-anchor: start" x="145" y="173.787188">U-FNO (Level 1)</text>
    </g>
    <g id="line2d_30">
     <path d="M 117 184.965312 L 127 184.965312 L 137 184.965312" style="fill: none; stroke-dasharray: 1.5,2.475; stroke-dashoffset: 0; stroke: #e377c2; stroke-width: 1.5"/>
     <g>
      <use href="#maf6b73d54b" x="127" y="184.965312" style="fill: #e377c2; stroke: #ffffff; stroke-width: 0.75"/>
     </g>
    </g>
    <g id="text_20">
     <text style="font-size: 10px; font-family: 'DejaVu Sans', 'Liberation Sans', sans-serif; text-anchor: start" x="145" y="188.465312">U-FNO (Level 2)</text>
    </g>
    <g id="line2d_31">
     <path d="M 117 199.643438 L 127 199.643438 L 137 199.643438" style="fill: none; stroke-dasharray: 1.5,2.475; stroke-dashoffset: 0; stroke: #7f7f7f; stroke-width: 1.5"/>
     <g>
      <use href="#maf3c147c5a" x="127" y="199.643438" style="fill: #7f7f7f; stroke: #ffffff; stroke-width: 0.75"/>
     </g>
    </g>
    <g id="text_21">
     <text style="font-size: 10px; font-family: 'DejaVu Sans', 'Liberation Sans', sans-serif; text-anchor: start" x="145" y="203.143438">U-FNO (Level 3)</text>
    </g>
    <g id="line2d_32">
     <path d="M 117 214.321562 L 127 214.321562 L 137 214.321562" style="fill: none; stroke: #bcbd22; stroke-width: 1.5; stroke-linecap: square"/>
     <g>
      <use href="#mbd489bb792" x="127" y="214.321562" style="fill: #bcbd22; stroke: #ffffff; stroke-width: 0.75"/>
     </g>
    </g>
    <g id="text_22">
     <text style="font-size: 10px; font-family: 'DejaVu Sans', 'Liberation Sans', sans-serif; text-anchor: start" x="145" y="217.821562">TAU (Level 0)</text>
    </g>
    <g id="line2d_33">
     <path d="M 117 228.999687 L 127 228.999687 L 137 228.999687" style="fill: none; stroke: #17becf; stroke-width: 1.5; stroke-linecap: square"/>
     <g>
      <use href="#md7ad0acb44" x="127" y="228.999687" style="fill: #17becf; stroke: #ffffff; stroke-width: 0.75"/>
     </g>
    </g>
    <g id="text_23">
     <text style="font-size: 10px; font-family: 'DejaVu Sans', 'Liberation Sans', sans-serif; text-anchor: start" x="145" y="232.499687">TAU (Level 1)</text>
    </g>
    <g id="line2d_34">
     <path d="M 117 243.677812 L 127 243.677812 L 137 243.677812" style="fill: none; stroke: #1f77b4; stroke-width: 1.5; stroke-linecap: square"/>
     <g>
      <use href="#m5df62d87d0" x="127" y="243.677812" style="fill: #1f77b4; stroke: #ffffff; stroke-width: 0.75"/>
     </g>
    </g>
    <g id="text_24">
     <text style="font-size: 10px; font-family: 'DejaVu Sans', 'Liberation Sans', sans-serif; text-anchor: start" x="145" y="247.177812">TAU (Level 2)</text>
    </g>
    <g id="line2d_35">
     <path d="M 117 258.355937 L 127 258.355937 L 137 258.355937" style="fill: none; stroke: #ff7f0e; stroke-width: 1.5; stroke-linecap: square"/>
     <g>
      <use href="#m56505ce936" x="127" y="258.355937" style="fill: #ff7f0e; stroke: #ffffff; stroke-width: 0.75"/>
     </g>
    </g>
    <g id="text_25">
     <text style="font-size: 10px; font-family: 'DejaVu Sans', 'Liberation Sans', sans-serif; text-anchor: start" x="145" y="261.855937">TAU (Level 3)</text>
    </g>
   </g>
  </g>
 </g>
 <defs>
  <clipPath id="pb26753ab78">
   <rect x="108" y="69.12" width="669.6" height="443.52"/>
  </clipPath>
 </defs>
</svg>

</body>
</html>
